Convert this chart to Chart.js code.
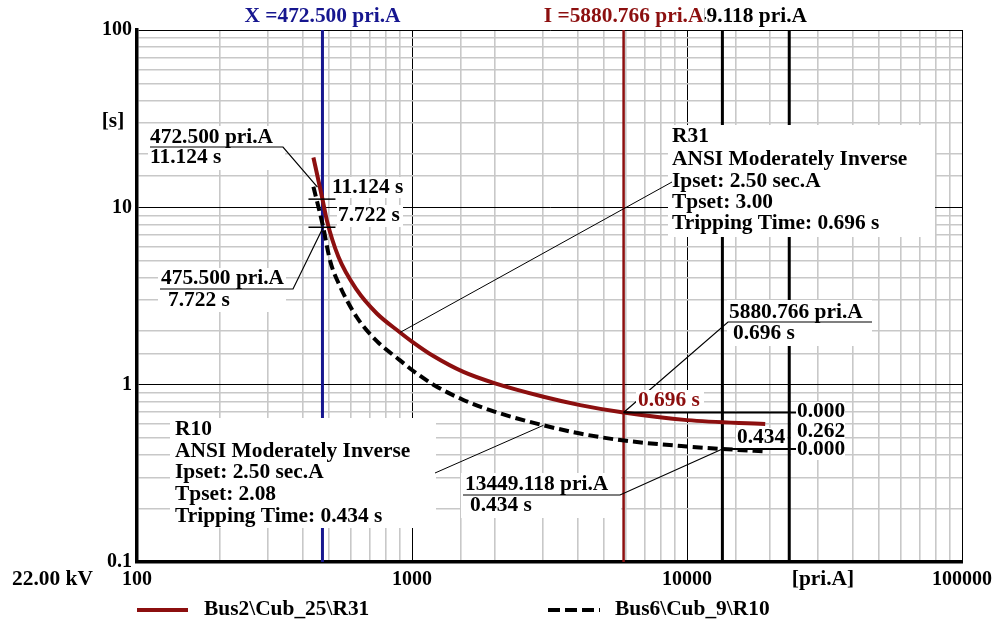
<!DOCTYPE html>
<html>
<head>
<meta charset="utf-8">
<script src="https://cdn.jsdelivr.net/npm/chart.js"></script>
<style>
  body { margin: 0; background: #fff; }
  #wrap { width: 999px; height: 623px; }
</style>
</head>
<body>
<div id="wrap"><canvas id="tcc" width="999" height="623"></canvas></div>
<script>
// relay curves (primary amps / seconds)
const r31Current = [438, 472.5, 490, 540, 630, 745, 905, 1000, 1196, 1538, 2005, 3006, 4088, 5880.766, 10000, 19250];
const r31Time    = [19.1, 11.124, 8.47, 5.26, 3.42, 2.52, 1.97, 1.75, 1.45, 1.18, 1.017, 0.855, 0.767, 0.696, 0.631, 0.600];
const r10Current = [438, 475.5, 503.7, 540, 630, 745, 905, 1000, 1196, 1538, 2005, 3006, 4088, 5715, 10000, 13449.118, 19250];
const r10Time    = [13.06, 7.722, 5.0, 3.75, 2.4, 1.76, 1.37, 1.21, 1.0, 0.82, 0.703, 0.59, 0.53, 0.487, 0.448, 0.434, 0.42];

// cursors and marked points
const cursorX = 472.5;
const cursorI = 5880.766;
const cursorI2 = 13449.118;
const limitI = 23540;
const r31AtX = 11.124;
const r10AtX = 7.722;
const r10XCurrent = 475.5;
const r31Trip = 0.696;
const r10Trip = 0.434;
const r31LeaderPt = [905, 1.97];
const r10LeaderPt = [3006, 0.59];

const xTicks = [100, 1000, 10000, 100000];
const yTicks = [0.1, 1, 10, 100];
const seriesNames = ['Bus2\\Cub_25\\R31', 'Bus6\\Cub_9\\R10'];

const RED = '#8c0f0f';
const NAVY = '#16168f';
const SX = 1.07;
const FONT = 'bold 20px "Liberation Serif"';

const isDecade = v => Math.abs(Math.log10(v) - Math.round(Math.log10(v))) < 1e-9;
const pts = (xs, ys) => xs.map((x, i) => ({ x: x, y: ys[i] }));
const vline = v => [{ x: v, y: 0.1 }, { x: v, y: 100 }];

function txt(ctx, s, x, y, color, align) {
    ctx.save();
    ctx.font = FONT;
    ctx.fillStyle = color || '#000';
    ctx.textBaseline = 'middle';
    ctx.textAlign = 'left';
    const w = ctx.measureText(s).width * SX;
    const x0 = align === 'center' ? x - w / 2 : align === 'right' ? x - w : x;
    ctx.translate(x0, y);
    ctx.scale(SX, 1);
    ctx.fillText(s, 0, 0);
    ctx.restore();
}

function poly(ctx, p, width, color, dash) {
    ctx.save();
    ctx.strokeStyle = color || '#000';
    ctx.lineWidth = width || 1;
    ctx.setLineDash(dash || []);
    ctx.beginPath();
    ctx.moveTo(p[0][0], p[0][1]);
    for (let i = 1; i < p.length; i++) ctx.lineTo(p[i][0], p[i][1]);
    ctx.stroke();
    ctx.restore();
}

function whiteBox(ctx, x, y, w, h) {
    ctx.save();
    ctx.fillStyle = '#fff';
    ctx.fillRect(x, y, w, h);
    ctx.restore();
}

const annotate = {
    id: 'annotate',
    afterDraw(chart) {
        const ctx = chart.ctx;
        const px = v => chart.scales.x.getPixelForValue(v);
        const py = v => chart.scales.y.getPixelForValue(v);

        // cursor captions on top
        txt(ctx, 'I =13449.118 pri.A', px(cursorI2), 17, '#000', 'center');
        whiteBox(ctx, px(cursorI) - 84, 5, 165, 24);
        txt(ctx, 'I =5880.766 pri.A', px(cursorI), 17, RED, 'center');
        txt(ctx, 'X =472.500 pri.A', px(cursorX), 17, NAVY, 'center');

        txt(ctx, '[s]', 113, 122, '#000', 'center');
        txt(ctx, '22.00 kV', 12, 580);
        txt(ctx, '[pri.A]', 823, 580, '#000', 'center');

        // R31 block
        whiteBox(ctx, 668, 125, 267, 112);
        poly(ctx, [[px(r31LeaderPt[0]), py(r31LeaderPt[1])], [672, 182]], 1);
        ['R31', 'ANSI Moderately Inverse', 'Ipset: 2.50 sec.A', 'Tpset: 3.00', 'Tripping Time: 0.696 s']
            .forEach((s, i) => txt(ctx, s, 672, [137, 160, 182, 203, 224][i]));

        // R10 block
        whiteBox(ctx, 170, 418, 266, 110);
        poly(ctx, [[px(r10LeaderPt[0]), py(r10LeaderPt[1])], [435, 473]], 1);
        ['R10', 'ANSI Moderately Inverse', 'Ipset: 2.50 sec.A', 'Tpset: 2.08', 'Tripping Time: 0.434 s']
            .forEach((s, i) => txt(ctx, s, 175, [430, 452, 473, 495, 517][i]));

        // cursor X readings
        const cx = px(cursorX), ya = py(r31AtX), yb = py(r10AtX);
        poly(ctx, [[cx - 14, ya], [cx + 13, ya]], 1.5);
        poly(ctx, [[cx - 14, yb], [cx + 13, yb]], 1.5);
        whiteBox(ctx, 332, 177, 76, 21);
        txt(ctx, '11.124 s', 332, 188);
        whiteBox(ctx, 337, 205, 66, 22);
        txt(ctx, '7.722 s', 338, 216);

        whiteBox(ctx, 148, 126, 137, 44);
        txt(ctx, '472.500 pri.A', 150, 138);
        txt(ctx, '11.124 s', 150, 158);
        poly(ctx, [[150, 147], [283, 147], [cx - 5, ya - 12]], 1.2);

        whiteBox(ctx, 158, 268, 128, 44);
        txt(ctx, '475.500 pri.A', 161, 279);
        txt(ctx, '7.722 s', 168, 301);
        poly(ctx, [[160, 289], [293, 289], [px(r10XCurrent), yb]], 1.2);

        // tripping points
        const ix = px(cursorI), iy = py(r31Trip);
        const jx = px(cursorI2), jy = py(r10Trip);
        whiteBox(ctx, 727, 300, 145, 46);
        txt(ctx, '5880.766 pri.A', 729, 313);
        txt(ctx, '0.696 s', 733, 334);
        poly(ctx, [[872, 322], [728, 322], [ix, iy]], 1.2);

        whiteBox(ctx, 636, 390, 68, 21);
        txt(ctx, '0.696 s', 638, 401, RED);
        whiteBox(ctx, 791, 402, 54, 58);
        whiteBox(ctx, 736, 428, 51, 20);
        txt(ctx, '0.434', 737, 438);
        poly(ctx, [[ix, iy], [796, iy]], 2);
        poly(ctx, [[jx, jy], [796, jy]], 2);
        txt(ctx, '0.000', 797, 412);
        txt(ctx, '0.262', 797, 432);
        txt(ctx, '0.000', 797, 450);

        whiteBox(ctx, 461, 473, 160, 45);
        txt(ctx, '13449.118 pri.A', 465, 485);
        txt(ctx, '0.434 s', 470, 506);
        poly(ctx, [[463, 495], [620, 495], [jx, jy]], 1.2);

        // legend
        poly(ctx, [[137, 610], [188, 610]], 4, RED);
        txt(ctx, seriesNames[0], 204, 610);
        poly(ctx, [[548, 610], [600, 610]], 4, '#000', [12, 5]);
        txt(ctx, seriesNames[1], 615, 610);
    }
};

const tickFont = { family: 'Liberation Serif', size: 20, weight: 'bold' };
const gridColor = c => isDecade(c.tick.value) ? '#000' : '#c8c8c8';
const gridWidth = c => isDecade(c.tick.value) ? 1 : 1.6;

new Chart(document.getElementById('tcc'), {
    type: 'scatter',
    data: {
        datasets: [
            { label: seriesNames[0], data: pts(r31Current, r31Time), showLine: true, borderColor: RED, borderWidth: 4,
              pointRadius: 0, cubicInterpolationMode: 'monotone' },
            { label: seriesNames[1], data: pts(r10Current, r10Time), showLine: true, borderColor: '#000', borderWidth: 4,
              borderDash: [10, 5], pointRadius: 0, cubicInterpolationMode: 'monotone' },
            { data: vline(cursorX), showLine: true, borderColor: NAVY, borderWidth: 3, pointRadius: 0 },
            { data: vline(cursorI), showLine: true, borderColor: RED, borderWidth: 2.5, pointRadius: 0 },
            { data: vline(cursorI2), showLine: true, borderColor: '#000', borderWidth: 3, pointRadius: 0 },
            { data: vline(limitI), showLine: true, borderColor: '#000', borderWidth: 3, pointRadius: 0 }
        ]
    },
    options: {
        responsive: false,
        animation: false,
        devicePixelRatio: 1,
        layout: { padding: { left: 0, right: 37, top: 30, bottom: 0 } },
        plugins: { legend: { display: false }, tooltip: { enabled: false } },
        scales: {
            x: {
                type: 'logarithmic', min: 100, max: 100000,
                afterFit: s => { s.height = 61; s.paddingLeft = 0; s.paddingRight = 0; },
                grid: { color: gridColor, lineWidth: gridWidth, drawTicks: false },
                border: { color: '#000', width: 3.5 },
                ticks: { color: '#000', font: tickFont, padding: 6, maxRotation: 0, autoSkip: false,
                         callback: v => xTicks.some(t => Math.abs(t - v) < 1e-6) ? String(v) : '' }
            },
            y: {
                type: 'logarithmic', min: 0.1, max: 100,
                afterFit: s => { s.width = 137; s.paddingTop = 0; s.paddingBottom = 0; },
                grid: { color: gridColor, lineWidth: gridWidth, drawTicks: false },
                border: { color: '#000', width: 3.5 },
                ticks: { color: '#000', font: tickFont, padding: 5, autoSkip: false,
                         callback: v => yTicks.some(t => Math.abs(t - v) < 1e-9) ? String(v) : '' }
            }
        }
    },
    plugins: [annotate]
});
</script>
</body>
</html>
